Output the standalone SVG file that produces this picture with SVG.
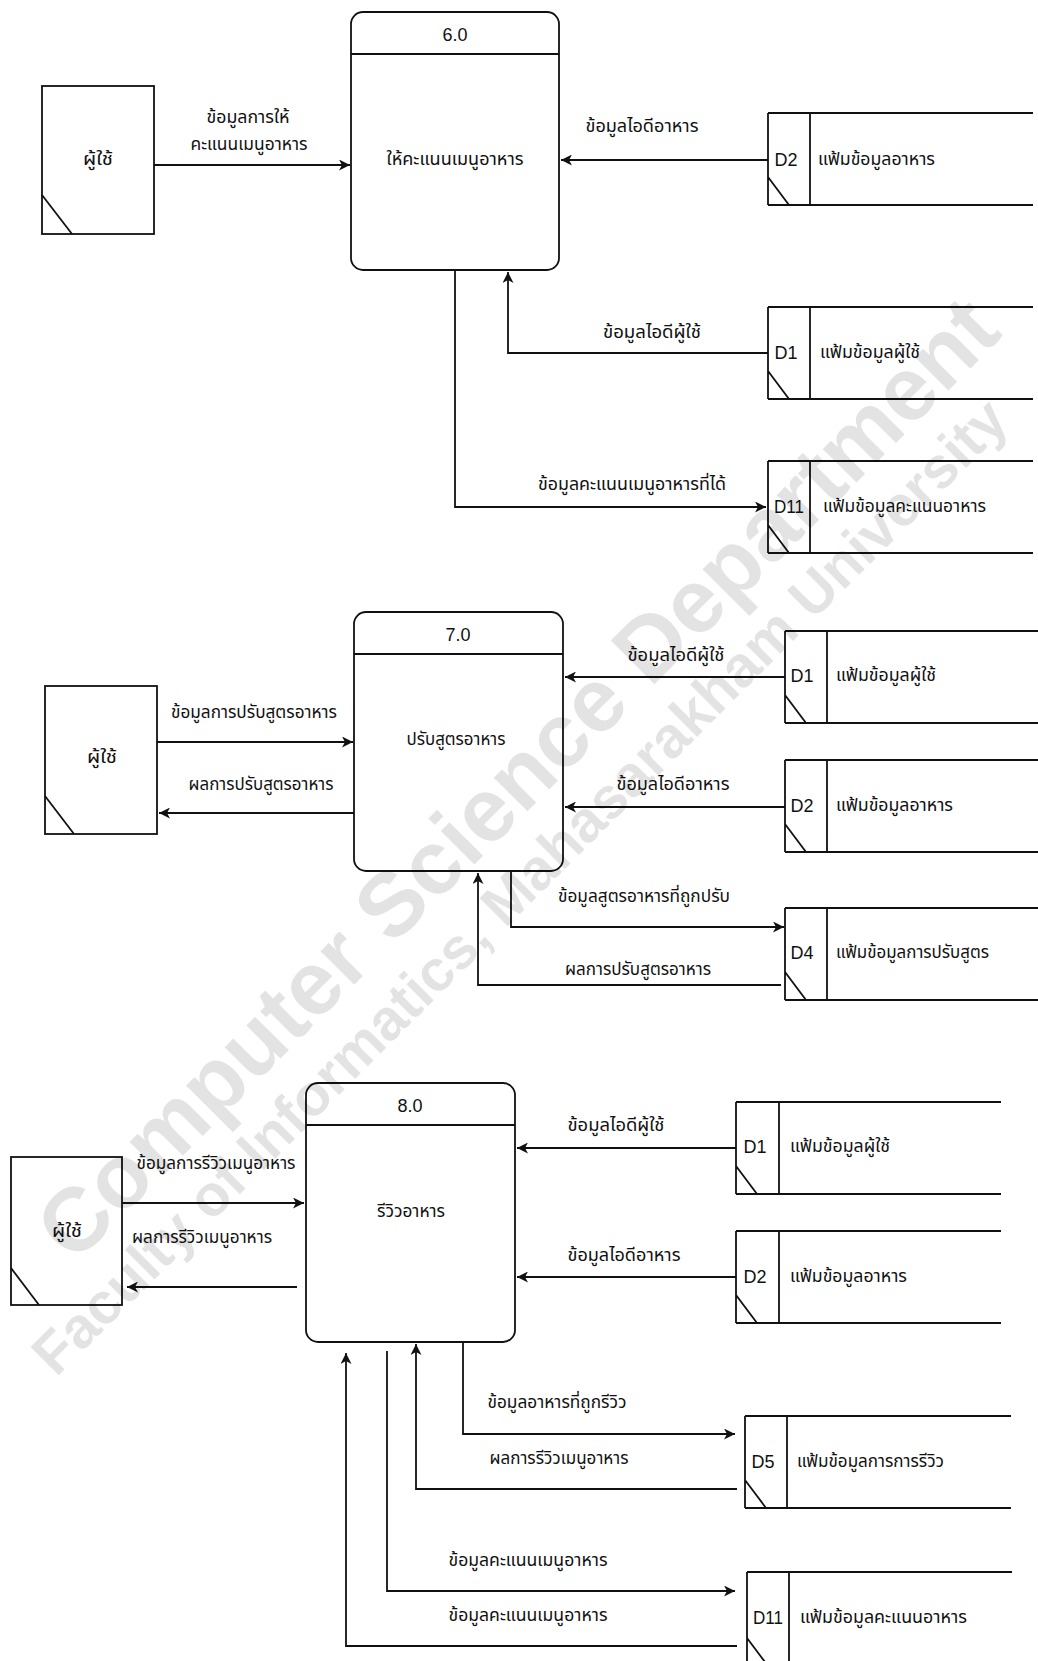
<svg xmlns="http://www.w3.org/2000/svg" width="1038" height="1661" viewBox="0 0 1038 1661">
<style>
.bg{fill:#fff}
.box{fill:none;stroke:#111;stroke-width:1.8}
.ln{fill:none;stroke:#111;stroke-width:1.8}
.cn{fill:none;stroke:#111;stroke-width:1.8}
.t{font-family:"Noto Sans Thai","Noto Sans","Liberation Sans",sans-serif;font-size:17px;fill:#111;text-anchor:middle;dominant-baseline:central}
.s{text-anchor:start}
.d{font-family:"Liberation Sans","Noto Sans",sans-serif;font-size:18px;fill:#111;text-anchor:middle;dominant-baseline:central}
.wm{font-family:"Liberation Sans","DejaVu Sans",sans-serif;font-weight:bold;fill:#000;fill-opacity:0.11;text-anchor:middle;dominant-baseline:central}
</style>
<defs>
<marker id="ah" viewBox="0 0 11 11" refX="11" refY="5.5" markerWidth="11" markerHeight="11" markerUnits="userSpaceOnUse" orient="auto">
<path d="M0,0 L11,5.5 L0,11 L3,5.5 Z" fill="#111"/>
</marker>
</defs>
<rect class="bg" x="0" y="0" width="1038" height="1661"/>

<g id="connectors">
<path class="cn" d="M154,165 H350" marker-end="url(#ah)"/>
<path class="cn" d="M768,160 H561" marker-end="url(#ah)"/>
<path class="cn" d="M768,353 H508 V272" marker-end="url(#ah)"/>
<path class="cn" d="M455,270 V507 H766" marker-end="url(#ah)"/>

<path class="cn" d="M157,742 H353" marker-end="url(#ah)"/>
<path class="cn" d="M354,813 H159" marker-end="url(#ah)"/>
<path class="cn" d="M785,677 H565" marker-end="url(#ah)"/>
<path class="cn" d="M785,807 H565" marker-end="url(#ah)"/>
<path class="cn" d="M511,871 V927 H784" marker-end="url(#ah)"/>
<path class="cn" d="M781,985 H478 V873" marker-end="url(#ah)"/>

<path class="cn" d="M122,1203 H304" marker-end="url(#ah)"/>
<path class="cn" d="M297,1287 H127" marker-end="url(#ah)"/>
<path class="cn" d="M736,1148 H517" marker-end="url(#ah)"/>
<path class="cn" d="M736,1277 H517" marker-end="url(#ah)"/>
<path class="cn" d="M463,1342 V1434 H735" marker-end="url(#ah)"/>
<path class="cn" d="M737,1489 H416 V1344" marker-end="url(#ah)"/>
<path class="cn" d="M387,1351 V1591 H735" marker-end="url(#ah)"/>
<path class="cn" d="M737,1646 H346 V1353" marker-end="url(#ah)"/>

<text class="t" x="248" y="118" textLength="83" lengthAdjust="spacingAndGlyphs">ข้อมูลการให้</text>
<text class="t" x="249" y="145" textLength="117" lengthAdjust="spacingAndGlyphs">คะแนนเมนูอาหาร</text>
<text class="t" x="642" y="127" textLength="113" lengthAdjust="spacingAndGlyphs">ข้อมูลไอดีอาหาร</text>
<text class="t" x="652" y="333" textLength="98" lengthAdjust="spacingAndGlyphs">ข้อมูลไอดีผู้ใช้</text>
<text class="t" x="632" y="485" textLength="188" lengthAdjust="spacingAndGlyphs">ข้อมูลคะแนนเมนูอาหารที่ได้</text>

<text class="t" x="254" y="713" textLength="166" lengthAdjust="spacingAndGlyphs">ข้อมูลการปรับสูตรอาหาร</text>
<text class="t" x="261" y="785" textLength="145" lengthAdjust="spacingAndGlyphs">ผลการปรับสูตรอาหาร</text>
<text class="t" x="676" y="656" textLength="97" lengthAdjust="spacingAndGlyphs">ข้อมูลไอดีผู้ใช้</text>
<text class="t" x="673" y="785" textLength="113" lengthAdjust="spacingAndGlyphs">ข้อมูลไอดีอาหาร</text>
<text class="t" x="644" y="897" textLength="172" lengthAdjust="spacingAndGlyphs">ข้อมูลสูตรอาหารที่ถูกปรับ</text>
<text class="t" x="638" y="970" textLength="146" lengthAdjust="spacingAndGlyphs">ผลการปรับสูตรอาหาร</text>

<text class="t" x="216" y="1164" textLength="159" lengthAdjust="spacingAndGlyphs">ข้อมูลการรีวิวเมนูอาหาร</text>
<text class="t" x="202" y="1238" textLength="140" lengthAdjust="spacingAndGlyphs">ผลการรีวิวเมนูอาหาร</text>
<text class="t" x="616" y="1126" textLength="97" lengthAdjust="spacingAndGlyphs">ข้อมูลไอดีผู้ใช้</text>
<text class="t" x="624" y="1256" textLength="113" lengthAdjust="spacingAndGlyphs">ข้อมูลไอดีอาหาร</text>
<text class="t" x="557" y="1403" textLength="139" lengthAdjust="spacingAndGlyphs">ข้อมูลอาหารที่ถูกรีวิว</text>
<text class="t" x="559" y="1459" textLength="139" lengthAdjust="spacingAndGlyphs">ผลการรีวิวเมนูอาหาร</text>
<text class="t" x="528" y="1561" textLength="159" lengthAdjust="spacingAndGlyphs">ข้อมูลคะแนนเมนูอาหาร</text>
<text class="t" x="528" y="1616" textLength="159" lengthAdjust="spacingAndGlyphs">ข้อมูลคะแนนเมนูอาหาร</text>
</g>

<g id="user1">
<rect class="box" x="42" y="86" width="112" height="148"/>
<path class="ln" d="M42,195 L72,234"/>
<text class="t" x="98" y="160" textLength="30" lengthAdjust="spacingAndGlyphs">ผู้ใช้</text>
</g>
<g id="p6">
<rect class="box" x="351" y="12" width="208" height="258" rx="12"/>
<path class="ln" d="M351,54 H559"/>
<text class="d" x="455" y="35">6.0</text>
<text class="t" x="455" y="160" textLength="137" lengthAdjust="spacingAndGlyphs">ให้คะแนนเมนูอาหาร</text>
</g>
<g id="s1d2">
<path class="ln" d="M768,113 H1033 M768,205 H1033 M768,113 V205 M810,113 V205 M768,177 L789,205"/>
<text class="d" x="786" y="160">D2</text>
<text class="t s" x="818" y="160" textLength="117" lengthAdjust="spacingAndGlyphs">แฟ้มข้อมูลอาหาร</text>
</g>
<g id="s1d1">
<path class="ln" d="M768,307 H1033 M768,399 H1033 M768,307 V399 M810,307 V399 M768,371 L789,399"/>
<text class="d" x="786" y="353">D1</text>
<text class="t s" x="820" y="353" textLength="100" lengthAdjust="spacingAndGlyphs">แฟ้มข้อมูลผู้ใช้</text>
</g>
<g id="s1d11">
<path class="ln" d="M768,461 H1033 M768,553 H1033 M768,461 V553 M810,461 V553 M768,525 L789,553"/>
<text class="d" x="789" y="507" textLength="30" lengthAdjust="spacingAndGlyphs">D11</text>
<text class="t s" x="823" y="507" textLength="163" lengthAdjust="spacingAndGlyphs">แฟ้มข้อมูลคะแนนอาหาร</text>
</g>

<g id="user2">
<rect class="box" x="45" y="686" width="112" height="148"/>
<path class="ln" d="M45,796 L74,834"/>
<text class="t" x="102" y="758" textLength="30" lengthAdjust="spacingAndGlyphs">ผู้ใช้</text>
</g>
<g id="p7">
<rect class="box" x="354" y="612" width="209" height="259" rx="12"/>
<path class="ln" d="M354,654 H563"/>
<text class="d" x="458" y="635">7.0</text>
<text class="t" x="456" y="740" textLength="99" lengthAdjust="spacingAndGlyphs">ปรับสูตรอาหาร</text>
</g>
<g id="s2d1">
<path class="ln" d="M785,631 H1038 M785,723 H1038 M785,631 V723 M827,631 V723 M785,695 L806,723"/>
<text class="d" x="802" y="676">D1</text>
<text class="t s" x="836" y="676" textLength="100" lengthAdjust="spacingAndGlyphs">แฟ้มข้อมูลผู้ใช้</text>
</g>
<g id="s2d2">
<path class="ln" d="M785,760 H1038 M785,852 H1038 M785,760 V852 M827,760 V852 M785,824 L806,852"/>
<text class="d" x="802" y="806">D2</text>
<text class="t s" x="836" y="806" textLength="117" lengthAdjust="spacingAndGlyphs">แฟ้มข้อมูลอาหาร</text>
</g>
<g id="s2d4">
<path class="ln" d="M785,908 H1038 M785,1000 H1038 M785,908 V1000 M827,908 V1000 M785,972 L806,1000"/>
<text class="d" x="802" y="953">D4</text>
<text class="t s" x="836" y="953" textLength="153" lengthAdjust="spacingAndGlyphs">แฟ้มข้อมูลการปรับสูตร</text>
</g>

<g id="user3">
<rect class="box" x="11" y="1157" width="111" height="148"/>
<path class="ln" d="M11,1268 L39,1305"/>
<text class="t" x="67" y="1232" textLength="30" lengthAdjust="spacingAndGlyphs">ผู้ใช้</text>
</g>
<g id="p8">
<rect class="box" x="306" y="1083" width="209" height="259" rx="12"/>
<path class="ln" d="M306,1125 H515"/>
<text class="d" x="410" y="1106">8.0</text>
<text class="t" x="411" y="1212" textLength="68" lengthAdjust="spacingAndGlyphs">รีวิวอาหาร</text>
</g>
<g id="s3d1">
<path class="ln" d="M736,1102 H1001 M736,1194 H1001 M736,1102 V1194 M779,1102 V1194 M736,1166 L757,1194"/>
<text class="d" x="755" y="1147">D1</text>
<text class="t s" x="790" y="1147" textLength="100" lengthAdjust="spacingAndGlyphs">แฟ้มข้อมูลผู้ใช้</text>
</g>
<g id="s3d2">
<path class="ln" d="M736,1231 H1001 M736,1323 H1001 M736,1231 V1323 M779,1231 V1323 M736,1295 L757,1323"/>
<text class="d" x="755" y="1277">D2</text>
<text class="t s" x="790" y="1277" textLength="117" lengthAdjust="spacingAndGlyphs">แฟ้มข้อมูลอาหาร</text>
</g>
<g id="s3d5">
<path class="ln" d="M745,1416 H1011 M745,1508 H1011 M745,1416 V1508 M787,1416 V1508 M745,1480 L766,1508"/>
<text class="d" x="763" y="1462">D5</text>
<text class="t s" x="797" y="1462" textLength="147" lengthAdjust="spacingAndGlyphs">แฟ้มข้อมูลการการรีวิว</text>
</g>
<g id="s3d11">
<path class="ln" d="M747,1572 H1012 M747,1666 H1012 M747,1572 V1666 M789,1572 V1666 M747,1638 L768,1666"/>
<text class="d" x="768" y="1618" textLength="30" lengthAdjust="spacingAndGlyphs">D11</text>
<text class="t s" x="800" y="1618" textLength="167" lengthAdjust="spacingAndGlyphs">แฟ้มข้อมูลคะแนนอาหาร</text>
</g>

<g id="watermark">
<text class="wm" x="517" y="778" font-size="90" transform="rotate(-45 517 778)">Computer Science Department</text>
<text class="wm" x="519" y="886" font-size="58" transform="rotate(-45 519 886)">Faculty of Informatics, Mahasarakham University</text>
</g>
</svg>
